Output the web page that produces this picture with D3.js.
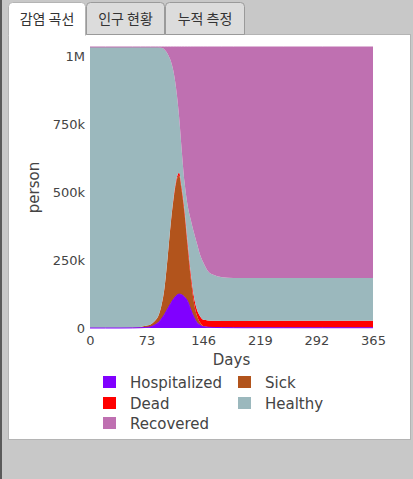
<!DOCTYPE html>
<html>
<head>
<meta charset="utf-8">
<script src="https://cdn.jsdelivr.net/npm/d3@7"></script>
<style>
  html, body { margin: 0; padding: 0; background: #c8c8c8; }
  svg { display: block; }
</style>
</head>
<body>
<svg id="chart" width="413" height="479"></svg>
<script>
// ---- data ----
const tabs = ["감염 곡선", "인구 현황", "누적 측정"];
const seriesNames = ["Hospitalized", "Sick", "Dead", "Healthy", "Recovered"];
const seriesColors = ["#8000ff", "#b2541c", "#ff0000", "#9bb8bd", "#bf70b1"];
const days = [0, 20, 40, 55, 65, 72, 78, 84, 88, 92, 96, 100, 104, 108, 112, 115, 118, 122, 126, 130, 134, 138, 142, 146, 152, 160, 170, 185, 200, 250, 300, 365];
const hospitalized = [0, 0, 0, 300, 1000, 2000, 4000, 12000, 20000, 33000, 50000, 70000, 90000, 108000, 121000, 125000, 123000, 114000, 98000, 68000, 40000, 20000, 10000, 5000, 3000, 2000, 1500, 1200, 1000, 1000, 1000, 1000];
const sick = [500, 800, 1000, 1700, 3000, 6000, 8500, 15000, 23000, 48000, 95000, 185000, 290000, 372000, 426000, 437000, 388000, 305000, 198000, 115000, 55000, 25000, 10000, 2000, 1000, 500, 500, 800, 1000, 500, 1000, 1000];
const dead = [0, 0, 0, 0, 0, 0, 300, 500, 800, 1000, 2000, 3000, 4000, 6000, 8000, 10000, 12000, 14000, 17000, 19000, 21000, 22000, 23000, 23000, 24000, 24000, 24000, 24000, 24000, 25000, 25000, 25000];
const healthy = [1034500, 1034200, 1034000, 1033000, 1031000, 1027000, 1022200, 1007500, 991200, 950000, 879000, 752000, 601000, 454000, 305000, 203000, 142000, 102000, 137000, 196000, 236000, 243000, 227000, 212000, 182000, 168500, 161000, 158000, 158000, 157500, 157000, 157000];
const recovered = [0, 0, 0, 0, 0, 0, 0, 0, 0, 3000, 9000, 25000, 50000, 95000, 175000, 260000, 370000, 500000, 585000, 637000, 683000, 725000, 765000, 793000, 825000, 840000, 848000, 851000, 851000, 851000, 851000, 851000];
const xTicks = [0, 73, 146, 219, 292, 365];
const yTicks = [0, 250000, 500000, 750000, 1000000];
const yTickLabels = ["0", "250k", "500k", "750k", "1M"];
const yMax = 1035000;

const svg = d3.select("#chart");

// ---- page frame ----
svg.append("rect").attr("x", 0).attr("y", 0).attr("width", 413).attr("height", 479).attr("fill", "#c8c8c8");
svg.append("rect").attr("x", 0).attr("y", 0).attr("width", 2).attr("height", 479).attr("fill", "#5a5a5a");
svg.append("rect").attr("x", 8.5).attr("y", 34.5).attr("width", 402).attr("height", 405)
  .attr("fill", "#ffffff").attr("stroke", "#b4b4b4");

// tabs
const tabX = [8, 86, 165];
const tabW = [77, 78, 79];
tabs.forEach((t, i) => {
  const active = i === 0;
  const x = tabX[i] + 0.5, y = 2.5, w = tabW[i], h = active ? 33 : 32, r = 4;
  svg.append("path")
    .attr("d", `M${x},${y + h} V${y + r} Q${x},${y} ${x + r},${y} H${x + w - r} Q${x + w},${y} ${x + w},${y + r} V${y + h}` + (active ? "" : " Z"))
    .attr("fill", active ? "#ffffff" : "#dcdcdc")
    .attr("stroke", active ? "#b4b4b4" : "#9a9a9a");
  svg.append("text").attr("x", tabX[i] + w / 2 + 0.5).attr("y", 24)
    .attr("text-anchor", "middle")
    .attr("font-family", "'Noto Sans CJK KR', 'Noto Sans', sans-serif")
    .attr("font-size", 14).attr("fill", "#333").text(t);
});
// cover the active tab's bottom border
svg.append("rect").attr("x", 9).attr("y", 33).attr("width", 76).attr("height", 3).attr("fill", "#ffffff");

// ---- chart ----
const x = d3.scaleLinear().domain([0, 365]).range([90, 373]);
const y = d3.scaleLinear().domain([0, yMax]).range([328, 47]);

const rows = days.map((d, i) => ({
  day: d,
  Hospitalized: hospitalized[i],
  Sick: sick[i],
  Dead: dead[i],
  Healthy: healthy[i],
  Recovered: recovered[i]
}));
const stacked = d3.stack().keys(seriesNames)(rows);

const area = d3.area()
  .x(d => x(d.data.day))
  .y0(d => y(d[0]))
  .y1(d => y(d[1]))
  .curve(d3.curveMonotoneX);
const topLine = d3.line()
  .x(d => x(d.data.day))
  .y(d => y(d[1]))
  .curve(d3.curveMonotoneX);

svg.append("g").selectAll("path").data(stacked).join("path")
  .attr("d", area)
  .attr("fill", (d, i) => seriesColors[i]);
// thin outline along hospitalized baseline and the top edge
const lineKeys = ["Hospitalized", "Recovered"];
svg.append("g").selectAll("path").data(stacked.filter(s => lineKeys.includes(s.key))).join("path")
  .attr("d", topLine)
  .attr("fill", "none")
  .attr("stroke", d => seriesColors[seriesNames.indexOf(d.key)])
  .attr("stroke-width", 1);

// axes (labels only, like the reference)
const tickFont = "'DejaVu Sans', Verdana, sans-serif";
const xAxis = d3.axisBottom(x).tickValues(xTicks).tickSize(0).tickPadding(8);
const gx = svg.append("g").attr("transform", "translate(0,328)").call(xAxis);
gx.select(".domain").remove();
gx.selectAll("text").attr("font-family", tickFont).attr("font-size", 13).attr("fill", "#444");

const yAxis = d3.axisLeft(y).tickValues(yTicks).tickFormat((d, i) => yTickLabels[i]).tickSize(0).tickPadding(5);
const gy = svg.append("g").attr("transform", "translate(90,0)").call(yAxis);
gy.select(".domain").remove();
gy.selectAll("text").attr("font-family", tickFont).attr("font-size", 13).attr("fill", "#444");

svg.append("text").attr("x", (x.range()[0] + x.range()[1]) / 2).attr("y", 365)
  .attr("text-anchor", "middle").attr("font-family", tickFont).attr("font-size", 15)
  .attr("fill", "#444").text("Days");
svg.append("text")
  .attr("transform", `translate(39,${(y.range()[0] + y.range()[1]) / 2}) rotate(-90)`)
  .attr("text-anchor", "middle").attr("font-family", tickFont).attr("font-size", 15)
  .attr("fill", "#444").text("person");

// legend (row-major, 2 columns)
const legendCols = [103, 238];
const legendRows = [382, 403, 423];
seriesNames.forEach((name, i) => {
  const cx = legendCols[i % 2], cy = legendRows[Math.floor(i / 2)];
  svg.append("rect").attr("x", cx).attr("y", cy - 6).attr("width", 13).attr("height", 12)
    .attr("fill", seriesColors[i]);
  svg.append("text").attr("x", cx + 27).attr("y", cy + 5.5)
    .attr("font-family", tickFont).attr("font-size", 15).attr("fill", "#444").text(name);
});
</script>
</body>
</html>
